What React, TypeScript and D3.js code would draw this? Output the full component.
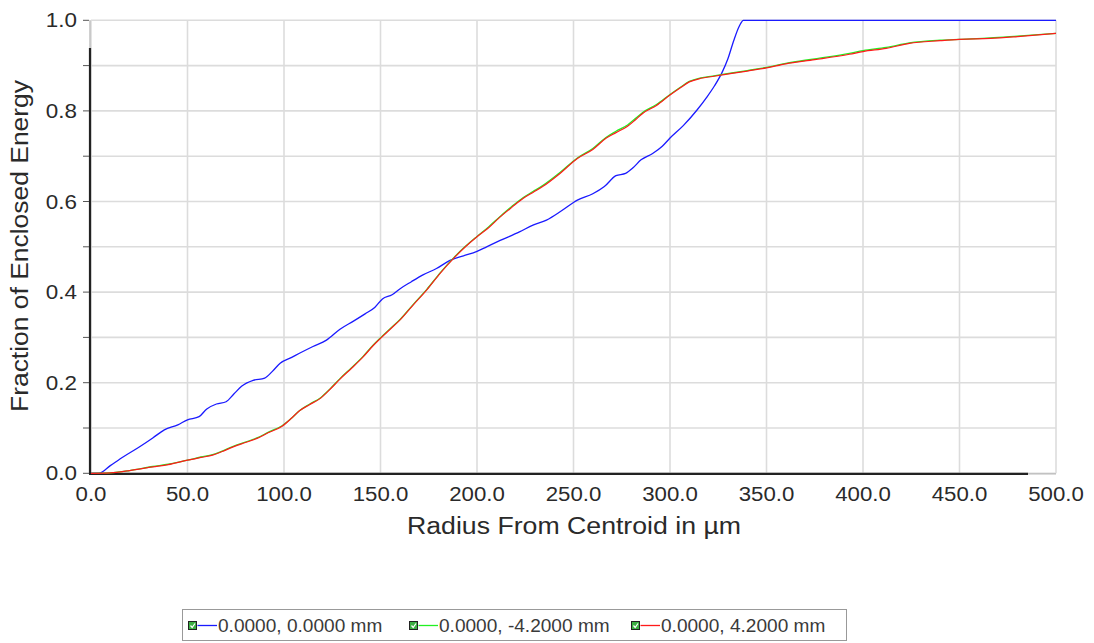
import React, { useEffect, useRef } from "react";
import * as d3 from "d3";

// blue: 0.0000, 0.0000 mm
const blueRadius = [0, 4, 10, 17, 25, 32, 38, 45, 50, 56, 60, 65, 70, 74, 78, 84, 90, 94, 98, 104, 108, 115, 122, 129, 136, 142, 147, 151, 156, 160, 166, 172, 179, 186, 193, 200, 205, 212, 222, 229, 236, 244, 252, 260, 266, 272, 277, 281, 285, 291, 296, 300, 307, 314, 319, 323, 327, 330, 333, 336, 338, 340, 350, 400, 450, 500];
const blueFrac = [0, 0, 0.017, 0.037, 0.058, 0.078, 0.096, 0.107, 0.118, 0.125, 0.142, 0.153, 0.158, 0.175, 0.192, 0.205, 0.21, 0.225, 0.243, 0.256, 0.265, 0.28, 0.294, 0.318, 0.336, 0.352, 0.366, 0.385, 0.394, 0.407, 0.423, 0.438, 0.452, 0.47, 0.48, 0.49, 0.5, 0.514, 0.533, 0.548, 0.559, 0.58, 0.603, 0.617, 0.633, 0.657, 0.662, 0.675, 0.692, 0.706, 0.722, 0.74, 0.768, 0.802, 0.83, 0.855, 0.885, 0.915, 0.955, 0.988, 1, 1, 1, 1, 1, 1];

// green and red share radii (off-axis fields)
const offRadius = [0, 10, 20, 32, 40, 50, 57, 63, 68, 74, 80, 86, 92, 99, 104, 108, 113, 119, 124, 129, 135, 141, 146, 150, 155, 160, 167, 174, 181, 188, 194, 200, 206, 212, 218, 224, 229, 234, 243, 252, 260, 267, 272, 278, 282, 286, 293, 300, 305, 310, 316, 322, 328, 340, 350, 360, 375, 393, 400, 412, 424, 440, 450, 466, 480, 500];
const greenFrac = [0, 0.001, 0.006, 0.015, 0.02, 0.029, 0.036, 0.041, 0.049, 0.06, 0.069, 0.078, 0.091, 0.105, 0.122, 0.138, 0.152, 0.167, 0.187, 0.209, 0.233, 0.258, 0.282, 0.299, 0.319, 0.339, 0.373, 0.406, 0.443, 0.476, 0.501, 0.523, 0.544, 0.567, 0.589, 0.609, 0.622, 0.635, 0.664, 0.696, 0.717, 0.742, 0.755, 0.769, 0.783, 0.797, 0.814, 0.836, 0.851, 0.865, 0.873, 0.877, 0.881, 0.889, 0.896, 0.905, 0.915, 0.927, 0.933, 0.94, 0.95, 0.956, 0.958, 0.961, 0.965, 0.971];
const redFrac = [0, 0.001, 0.006, 0.014, 0.019, 0.029, 0.035, 0.04, 0.048, 0.059, 0.068, 0.077, 0.09, 0.104, 0.122, 0.138, 0.151, 0.166, 0.186, 0.208, 0.232, 0.257, 0.281, 0.298, 0.318, 0.338, 0.372, 0.405, 0.442, 0.475, 0.5, 0.522, 0.542, 0.566, 0.587, 0.607, 0.62, 0.633, 0.662, 0.695, 0.715, 0.74, 0.752, 0.766, 0.78, 0.795, 0.812, 0.835, 0.85, 0.864, 0.872, 0.876, 0.88, 0.888, 0.895, 0.904, 0.913, 0.925, 0.931, 0.938, 0.949, 0.955, 0.958, 0.96, 0.964, 0.971];

const legendLabels = ["0.0000, 0.0000 mm", "0.0000, -4.2000 mm", "0.0000, 4.2000 mm"];
const seriesColors = ["#1a1aff", "#22f022", "#ff1a1a"];

const xTicks = [0, 50, 100, 150, 200, 250, 300, 350, 400, 450, 500];
const yTicks = [0, 0.2, 0.4, 0.6, 0.8, 1.0];
const yMinor = [0, 0.1, 0.2, 0.3, 0.4, 0.5, 0.6, 0.7, 0.8, 0.9, 1.0];

const W = 1094;
const H = 643;
const FONT = "'Liberation Sans', Arial, sans-serif";

export default function App() {
  const ref = useRef<SVGSVGElement>(null);

  useEffect(() => {
    const svg = d3.select(ref.current);
    svg.selectAll("*").remove();

    const x = d3.scaleLinear().domain([0, 500]).range([91, 1056]);
    const y = d3.scaleLinear().domain([0, 1]).range([473.3, 20.3]);

    // grid
    const grid = svg.append("g").attr("stroke", "#dcdcdc").attr("stroke-width", 1.6);
    grid.selectAll("line.h").data(yMinor).enter().append("line")
      .attr("x1", x(0)).attr("x2", x(500))
      .attr("y1", (d) => y(d)).attr("y2", (d) => y(d));
    grid.selectAll("line.v").data(xTicks).enter().append("line")
      .attr("x1", (d) => x(d)).attr("x2", (d) => x(d))
      .attr("y1", y(0)).attr("y2", y(1));

    // axis lines (dark part + light part like the original)
    svg.append("line").attr("x1", 90).attr("x2", 90).attr("y1", y(1)).attr("y2", 48)
      .attr("stroke", "#c0c0c0").attr("stroke-width", 1.5);
    svg.append("line").attr("x1", 90).attr("x2", 90).attr("y1", 48).attr("y2", y(0) + 1)
      .attr("stroke", "#222").attr("stroke-width", 2.2);
    svg.append("line").attr("x1", 89).attr("x2", 1028).attr("y1", y(0) + 0.5).attr("y2", y(0) + 0.5)
      .attr("stroke", "#222").attr("stroke-width", 2.2);
    svg.append("line").attr("x1", 1028).attr("x2", x(500)).attr("y1", y(0) + 0.5).attr("y2", y(0) + 0.5)
      .attr("stroke", "#c0c0c0").attr("stroke-width", 1.5);

    // y ticks
    svg.append("g").selectAll("line").data(yMinor).enter().append("line")
      .attr("x1", 83).attr("x2", 89)
      .attr("y1", (d) => y(d)).attr("y2", (d) => y(d))
      .attr("stroke", "#555").attr("stroke-width", 1);

    // y tick labels
    svg.append("g").selectAll("g").data(yTicks).enter().append("g")
      .attr("transform", (d) => `translate(77,${y(d) + 7})`)
      .append("text")
      .attr("transform", "scale(1.15,1)")
      .attr("text-anchor", "end")
      .attr("font-family", FONT).attr("font-size", 19.5).attr("fill", "#2a2a2a")
      .text((d) => d3.format(".1f")(d));

    // x tick labels
    svg.append("g").selectAll("g").data(xTicks).enter().append("g")
      .attr("transform", (d) => `translate(${x(d)},500.5)`)
      .append("text")
      .attr("transform", "scale(1.14,1)")
      .attr("text-anchor", "middle")
      .attr("font-family", FONT).attr("font-size", 19.5).attr("fill", "#2a2a2a")
      .text((d) => d3.format(".1f")(d));

    // axis titles
    svg.append("text")
      .attr("x", 407).attr("y", 533.5)
      .attr("textLength", 334).attr("lengthAdjust", "spacingAndGlyphs")
      .attr("font-family", FONT).attr("font-size", 23.5).attr("fill", "#2a2a2a")
      .text("Radius From Centroid in µm");
    svg.append("g").attr("transform", "translate(28,412) rotate(-90)")
      .append("text")
      .attr("x", 0).attr("y", 0)
      .attr("textLength", 332).attr("lengthAdjust", "spacingAndGlyphs")
      .attr("font-family", FONT).attr("font-size", 23.5).attr("fill", "#2a2a2a")
      .text("Fraction of Enclosed Energy");

    // curves
    const series = [
      { r: blueRadius, f: blueFrac },
      { r: offRadius, f: greenFrac },
      { r: offRadius, f: redFrac },
    ];
    const line = d3.line<[number, number]>()
      .x((d) => x(d[0]))
      .y((d) => y(d[1]))
      .curve(d3.curveMonotoneX);
    series.forEach((s, i) => {
      const pts: [number, number][] = s.r.map((r, j) => [r, s.f[j]]);
      svg.append("path")
        .attr("d", line(pts))
        .attr("fill", "none")
        .attr("stroke", seriesColors[i])
        .attr("stroke-width", i === 2 ? 1.2 : 1.3);
    });

    // legend
    svg.append("rect")
      .attr("x", 182.5).attr("y", 609.5).attr("width", 664).attr("height", 31)
      .attr("fill", "#fff").attr("stroke", "#999").attr("stroke-width", 1);
    const legendX = [188, 409, 631];
    const items = svg.append("g").selectAll("g").data(legendLabels).enter().append("g")
      .attr("transform", (d, i) => `translate(${legendX[i]},0)`);
    items.append("rect")
      .attr("x", 0.5).attr("y", 621.5).attr("width", 8).attr("height", 8)
      .attr("fill", "#3cb043").attr("stroke", "#222").attr("stroke-width", 1);
    items.append("path")
      .attr("d", "M2.5,625.5 L4.2,627.5 L7,623.5")
      .attr("fill", "none").attr("stroke", "#fff").attr("stroke-width", 1.2);
    items.append("line")
      .attr("x1", 9.5).attr("x2", 29).attr("y1", 625.5).attr("y2", 625.5)
      .attr("stroke", (d, i) => seriesColors[i]).attr("stroke-width", 1.3);
    items.append("g").attr("transform", "translate(30,632)")
      .append("text")
      .attr("transform", "scale(1.09,1)")
      .attr("font-family", FONT).attr("font-size", 17.5).attr("fill", "#3a3a3a")
      .text((d) => d);
  }, []);

  return (
    <svg
      ref={ref}
      width={W}
      height={H}
      style={{ position: "absolute", left: 0, top: 0, background: "#fff" }}
    ></svg>
  );
}
